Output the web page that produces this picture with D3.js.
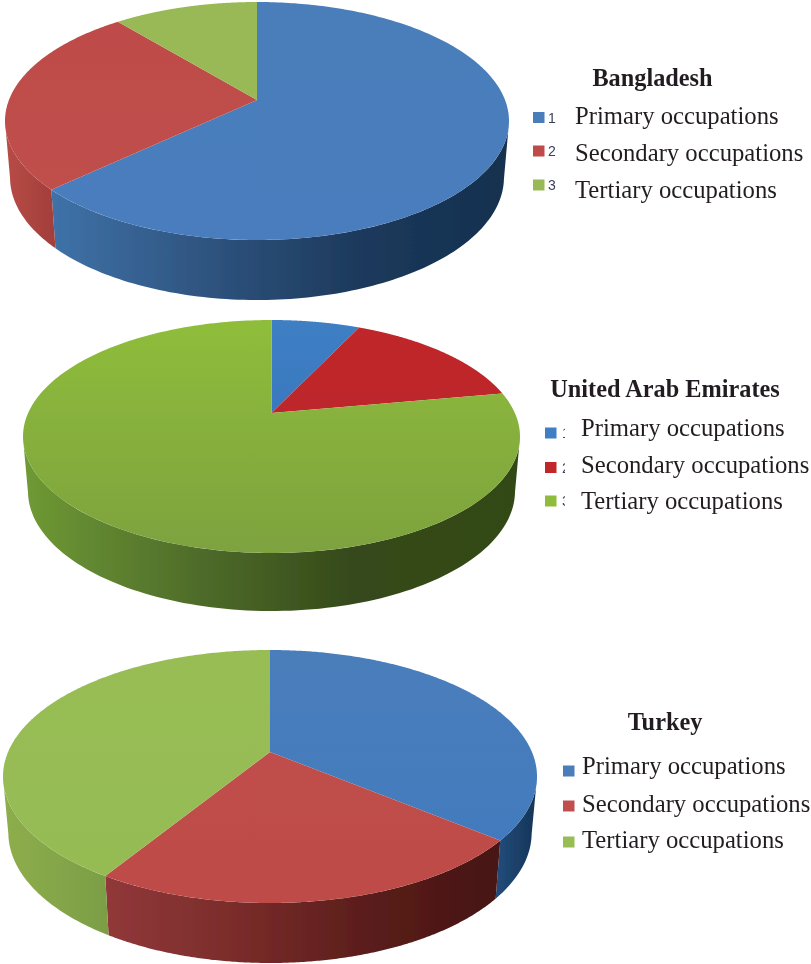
<!DOCTYPE html>
<html><head><meta charset="utf-8">
<script src="https://cdn.jsdelivr.net/npm/d3@7"></script>
<style>html,body{margin:0;padding:0;background:#fff}svg{display:block}</style>
</head><body><svg id="c" width="811" height="964"></svg>
<script>
const occupations = ["Primary occupations","Secondary occupations","Tertiary occupations"];
const countries = ["Bangladesh","United Arab Emirates","Turkey"];
const bangladesh = [63,26,11];
const uae = [7,15.1,77.9];
const turkey = [36,22.8,41.2];
const seriesValues = [bangladesh,uae,turkey];
const legendKeys = [["1","2","3"],["1","2","3"],["","",""]];

// layout of each disc: apex height, extreme edges, extrusion depth, legend positions
const layouts = [
 {ay:100,top:2,bottom:240,left:5,right:509,depth:60,titleX:652.5,titleY:86,swX:533,numX:548,clip:600,textX:575,base:[124,160.5,197.5],swC:[117.5,151,185]},
 {ay:413,top:320,bottom:553,left:23,right:520,depth:58,titleX:665,titleY:397,swX:545,numX:562,clip:565,textX:581,base:[436,472.5,509],swC:[433,467.5,501]},
 {ay:752,top:650,bottom:903,left:3,right:537,depth:60,titleX:665,titleY:730,swX:563,numX:null,clip:600,textX:582,base:[774,812,848],swC:[771,806,842]}
];
// top face: [upper colour, lower colour]
const topCols = [
 [["#4a7ebb","#4a7dbd"],["#be4b48","#c0504d"],["#98b954","#98b954"]],
 [["#3f7fc4","#2f6fb8"],["#c0282c","#b82428"],["#8fbd3a","#7da23f"]],
 [["#4a7ebb","#4079be"],["#c0504d","#bf4b48"],["#98bd55","#95bb53"]]
];
// side wall: stops along the visible width of that slice
const sideCols = [
 [["#3f72a8","#2f5480","#1d3a5c","#13304f"],["#b84c46","#a33f3c"],["#8aa94a","#6f8a3a"]],
 [["#2a5a94","#16304f"],["#8e2020","#5a1414"],["#6f9a34","#506e2b","#35491a","#334a18"]],
 [["#214a78","#143456"],["#91383a","#7a2c2a","#5a1d1b","#471412"],["#8eae4d","#7c9e45"]]
];
const wallInset = 0.98, wallGrow = 1.03;
const svg = d3.select("#c");
const defs = svg.append("defs");
defs.append("filter").attr("id","soft").attr("x","-5%").attr("y","-5%").attr("width","110%").attr("height","110%")
  .append("feGaussianBlur").attr("stdDeviation",0.6);
defs.append("filter").attr("id","softText")
  .append("feGaussianBlur").attr("stdDeviation",0.3);
const pieGen = d3.pie().sort(null);
const line = d3.line();

layouts.forEach((L,i)=>{
  const below = L.bottom-L.ay, above = L.ay-L.top;
  const t = (below-above)/(below+above);
  const a = below*(1-t);
  const rx = (L.right-L.left)/2;
  const b = rx*Math.sqrt(1-t*t);
  const cx = (L.left+L.right)/2;
  // perspective image of a unit circle: the disc centre lands on the apex
  const P = ang=>{
    const u=Math.sin(ang), v=-Math.cos(ang), w=1-t*v;
    return [cx+b*u/w, L.ay+a*v/w];
  };
  const Low = p=>[cx+(p[0]-cx)*wallInset, L.ay+(p[1]-L.ay)*wallGrow+L.depth-(wallGrow-1)*below];
  const arcs = pieGen(seriesValues[i]);
  const g = svg.append("g").attr("filter","url(#soft)");

  arcs.forEach((d,j)=>{
    const n=200, angs=d3.range(n+1).map(s=>d.startAngle+(d.endAngle-d.startAngle)*s/n);
    const vis=angs.filter(x=>-Math.cos(x)>=t);
    if(vis.length<2) return;
    const upper=vis.map(P), lower=upper.map(Low).reverse();
    const xs=upper.map(p=>p[0]);
    const id=`s${i}${j}`;
    const gr=defs.append("linearGradient").attr("id",id).attr("gradientUnits","userSpaceOnUse")
      .attr("x1",d3.min(xs)).attr("x2",d3.max(xs)).attr("y1",0).attr("y2",0);
    sideCols[i][j].forEach((c,k,arr)=>gr.append("stop").attr("offset",k/(arr.length-1)).attr("stop-color",c));
    g.append("path").attr("d",line(upper.concat(lower))+"Z").attr("fill",`url(#${id})`);
  });

  arcs.forEach((d,j)=>{
    const n=240, pts=d3.range(n+1).map(s=>P(d.startAngle+(d.endAngle-d.startAngle)*s/n));
    const id=`t${i}${j}`;
    const gr=defs.append("linearGradient").attr("id",id).attr("gradientUnits","userSpaceOnUse")
      .attr("x1",0).attr("x2",0).attr("y1",L.top).attr("y2",L.bottom);
    topCols[i][j].forEach((c,k)=>gr.append("stop").attr("offset",k).attr("stop-color",c));
    g.append("path").attr("d",line([[cx,L.ay]].concat(pts))+"Z").attr("fill",`url(#${id})`);
  });

  const clipId=`clip${i}`;
  defs.append("clipPath").attr("id",clipId).append("rect").attr("x",0).attr("y",0).attr("width",L.clip).attr("height",964);
  const tg = svg.append("g").attr("filter","url(#softText)");
  tg.append("text").attr("x",L.titleX).attr("y",L.titleY).attr("text-anchor","middle")
    .attr("font-family","Liberation Serif").attr("font-weight","bold").attr("font-size",24.3).attr("fill","#231f20").text(countries[i]);
  occupations.forEach((o,j)=>{
    tg.append("rect").attr("x",L.swX).attr("y",L.swC[j]-5.5).attr("width",11.5).attr("height",11).attr("fill",topCols[i][j][0]);
    if(L.numX!==null) tg.append("text").attr("x",L.numX).attr("y",L.swC[j]+5).attr("clip-path",`url(#${clipId})`)
      .attr("font-family","Liberation Sans").attr("font-size",14).attr("fill","#3a3f5a").text(legendKeys[i][j]);
    tg.append("text").attr("x",L.textX).attr("y",L.base[j]).attr("font-family","Liberation Serif").attr("font-size",24.7).attr("fill","#231f20").text(o);
  });
});
</script></body></html>
